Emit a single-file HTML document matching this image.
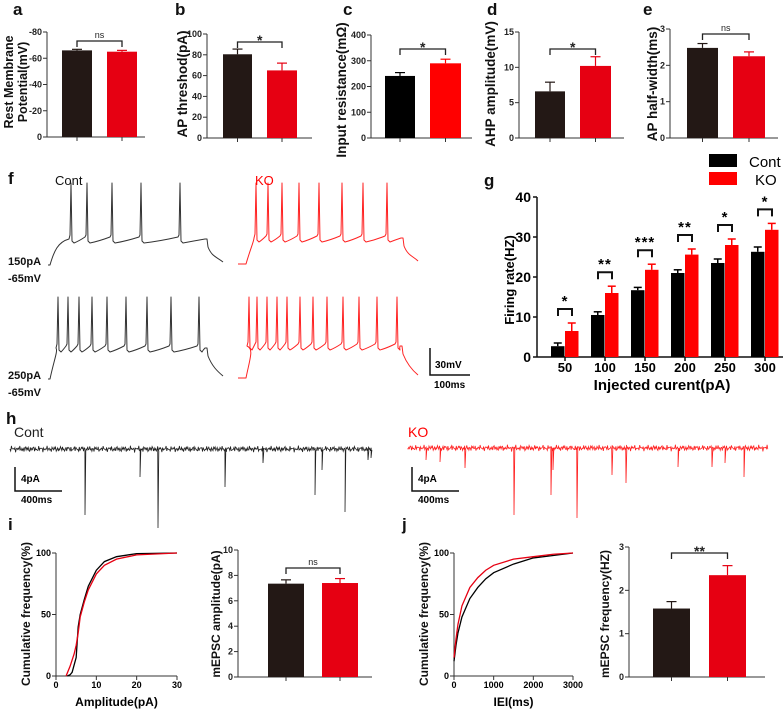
<!DOCTYPE html>
<html><head><meta charset="utf-8">
<style>
html,body{margin:0;padding:0;background:#fff;}
svg{display:block;font-family:"Liberation Sans",Arial,sans-serif;}
.tk{font-size:9px;fill:#222;font-weight:bold;}
.tt{font-size:13.5px;font-weight:bold;fill:#111;}
.tt2{font-size:12px;font-weight:bold;fill:#111;}
.tta{font-size:12.5px;font-weight:bold;fill:#111;}
.pl{font-size:17px;font-weight:bold;fill:#111;}
</style></head>
<body>
<svg id="fig" width="784" height="710" viewBox="0 0 784 710" xmlns="http://www.w3.org/2000/svg"></svg>
<script>
// ---- data: top row bar panels ----
const aVals=[66,65], aErr=[0.8,1.0];
const bVals=[80.5,65], bErr=[5,7];
const cVals=[241,290], cErr=[13,16];
const dVals=[6.6,10.2], dErr=[1.3,1.3];
const eVals=[2.48,2.25], eErr=[0.12,0.12];
const aTicks=["-80","-60","-40","-20","0"];
const bTicks=["100","80","60","40","20","0"];
const cTicks=["400","300","200","100","0"];
const dTicks=["15","10","5","0"];
const eTicks=["3","2","1","0"];
// ---- panel g ----
const gCats=["50","100","150","200","250","300"];
const gCont=[2.7,10.5,16.7,21,23.5,26.3];
const gContErr=[0.8,0.8,0.7,0.8,1.0,1.2];
const gKO=[6.5,16,21.8,25.6,28,31.8];
const gKOErr=[2,1.7,1.4,1.4,1.5,1.6];
const gStars=["*","**","***","**","*","*"];
const gTicks=[0,10,20,30,40];
// ---- panel i/j ----
const ampX=[2.8,3.5,4,5,5.5,6,7,8,10,12,15,20,30];
const ampCont=[0,1,3,15,40,50,62,73,86,93,97,99.5,100];
const ampKOX=[2.5,3.5,4.5,5,5.5,6,7,8,10,12,15,20,30];
const ampKO=[0,8,18,25,35,48,60,70,83,90,95,98.5,100];
const ieiX=[0,50,100,200,400,600,800,1000,1500,2000,2500,3000];
const ieiCont=[12,25,35,48,63,72,79,84,91,96,98,100];
const ieiKO=[15,30,42,57,72,80,86,90,95,97,99,100];
const iBar=[7.35,7.4], iBarErr=[0.3,0.35];
const jBar=[1.58,2.35], jBarErr=[0.16,0.22];
// ---- traces ----
const f1Cont=[71,87,112,141,180];
const f1KO=[256,268,282,299,319,342,363,387];
const f2Cont=[58,68,79,92,107,126,147,171,199];
const f2KO=[249,257,267,277,287,300,313,327,343,359,377,397];
const hContX=[85,140,158,225,263,315,322,345,368,371];
const hContD=[515,477,528,487,463,495,470,512,460,458];
const hKOX=[426,440,465,514,551,553,577,612,626,678,712,725,744];
const hKOD=[460,462,468,515,495,470,518,475,483,467,467,463,477];

const NS="http://www.w3.org/2000/svg";
const svg=document.getElementById('fig');
function mk(tag,attrs,parent,text){const e=document.createElementNS(NS,tag);for(const k in attrs)e.setAttribute(k,attrs[k]);if(text!==undefined)e.textContent=text;(parent||svg).appendChild(e);return e;}
function line(x1,y1,x2,y2,c,w,p){return mk('line',{x1,y1,x2,y2,stroke:c,'stroke-width':w||1},p);}

// panel letters
[['a',13,15],['b',175,15],['c',343,15],['d',487,15],['e',643,15],['f',8,184],['g',484,186],['h',6,424],['i',8,530],['j',402,530]].forEach(l=>{
 const t=mk('text',{x:l[1],y:l[2],class:'pl'},svg,l[0]);
 
 
});

function barPanel(cfg){
 const g=mk('g',{});
 
 
 const y=v=>cfg.y0-(v/cfg.max)*(cfg.y0-cfg.yTop);
 line(cfg.ax,cfg.yTop,cfg.ax,cfg.y0,'#333',1,g);
 line(cfg.ax,cfg.y0,cfg.axEnd,cfg.y0,'#333',1,g);
 cfg.ticks.forEach((lab,i)=>{const v=cfg.max*(1-i/(cfg.ticks.length-1));const yy=y(v);
  line(cfg.ax-4,yy,cfg.ax,yy,'#333',1,g);
  const t=mk('text',{x:cfg.ax-5,y:yy+3,'text-anchor':'end',class:'tk'},g,lab);
  });
 const cols=cfg.colors;
 cfg.vals.forEach((v,i)=>{const x0=cfg.bx[i][0],x1=cfg.bx[i][1],cx=(x0+x1)/2;
  const r=mk('rect',{x:x0,y:y(v),width:x1-x0,height:cfg.y0-y(v),fill:cols[i]},g);
  
  const ye=y(v+cfg.err[i]);
  line(cx,ye,cx,y(v),cols[i],1.2,g);line(cx-5,ye,cx+5,ye,cols[i],1.2,g);
  line(cx,cfg.y0,cx,cfg.y0+4,'#333',1,g);});
 const c0=(cfg.bx[0][0]+cfg.bx[0][1])/2,c1=(cfg.bx[1][0]+cfg.bx[1][1])/2;
 mk('path',{d:`M${c0},${cfg.brY+6}V${cfg.brY}H${c1}V${cfg.brY+6}`,fill:'none',stroke:'#222','stroke-width':1.3},g);
 const s=mk('text',{x:(c0+c1)/2,y:cfg.brY-(cfg.sig=='ns'?3:-3),'text-anchor':'middle','font-size':cfg.sig=='ns'?'9px':'14px','font-weight':cfg.sig=='ns'?'normal':'bold',fill:'#222'},g,cfg.sig);
 
 cfg.title.forEach((tl,k)=>{const tx=cfg.tx[k];
  const t=mk('text',{x:0,y:0,transform:`translate(${tx},${cfg.ty}) rotate(-90)`,'text-anchor':'middle',class:cfg.tcls||'tt'},g,tl);
  });
}
const DK=['#231815','#e60012'], BK=['#000','#ff0000'];
barPanel({name:'panel-a-rest-potential',ax:47,axEnd:145,yTop:32,y0:137,max:80,ticks:aTicks,vals:aVals,err:aErr,bx:[[62,92],[107,137]],colors:DK,brY:41,sig:'ns',title:['Rest Membrane','Potential(mV)'],tx:[13,27],ty:82,tcls:'tta'});
barPanel({name:'panel-b-ap-threshold',ax:207,axEnd:312,yTop:34,y0:138,max:100,ticks:bTicks,vals:bVals,err:bErr,bx:[[223,252],[267,297]],colors:DK,brY:42,sig:'*',title:['AP threshod(pA)'],tx:[187],ty:84});
barPanel({name:'panel-c-input-resistance',ax:371,axEnd:472,yTop:35,y0:138,max:400,ticks:cTicks,vals:cVals,err:cErr,bx:[[385,415],[430,461]],colors:BK,brY:49,sig:'*',title:['Input resistance(mΩ)'],tx:[346],ty:90});
barPanel({name:'panel-d-ahp-amplitude',ax:519,axEnd:624,yTop:32,y0:138,max:15,ticks:dTicks,vals:dVals,err:dErr,bx:[[535,565],[580,611]],colors:DK,brY:49,sig:'*',title:['AHP amplitude(mV)'],tx:[495],ty:84});
barPanel({name:'panel-e-ap-halfwidth',ax:670,axEnd:778,yTop:29,y0:138,max:3,ticks:eTicks,vals:eVals,err:eErr,bx:[[687,718],[733,765]],colors:DK,brY:34,sig:'ns',title:['AP half-width(ms)'],tx:[657],ty:84});

// ---- panel f traces ----
function apTrace(name,spikes,x0,xOn,xEnd,xTail,yBase,yPlat,yPeak,col){
 let d=`M${x0},${yBase}H${xOn}C${xOn+4},${yPlat+12} ${xOn+8},${yPlat+3} ${spikes[0]-2},${yPlat}`;
 spikes.forEach((s,i)=>{
  d+=`L${s-1},${yPlat-4}L${s},${yPeak}L${s+1},${yPlat+2}L${s+3},${yPlat+4}`;
  const nx=i<spikes.length-1?spikes[i+1]:xEnd;
  d+=`Q${(s+nx)/2},${yPlat+2} ${nx-2},${yPlat-(i<spikes.length-1?2:0)}`;
 });
 d+=`L${xEnd},${yPlat}L${xEnd+1},${yPlat+8}C${xEnd+5},${yPlat+18} ${xEnd+10},${yBase-8} ${xTail},${yBase-3}`;
 const p=mk('path',{d,fill:'none',stroke:col,'stroke-width':1,'stroke-linejoin':'round'});
 
}
apTrace('trace-cont-150pa',f1Cont,48,50,207,223,265,239,183,'#333');
apTrace('trace-ko-150pa',f1KO,238,246,403,418,264,238,183,'#f22');
apTrace('trace-cont-250pa',f2Cont,48,50,207,223,379,348,297,'#333');
apTrace('trace-ko-250pa',f2KO,238,246,402,418,378,346,297,'#f22');
[['Cont',55,185,'#111'],['KO',255,185,'#f00']].forEach(t=>{const e=mk('text',{x:t[1],y:t[2],'font-size':'13px',fill:t[3]},svg,t[0]);
 });
[['150pA',8,265],['-65mV',8,282],['250pA',8,379],['-65mV',8,396]].forEach(t=>{const e=mk('text',{x:t[1],y:t[2],'font-size':'11px','font-weight':'bold',fill:'#111'},svg,t[0]);
 });
mk('path',{d:'M430,348V375H470',fill:'none',stroke:'#111','stroke-width':1.5});
mk('text',{x:435,y:368,'font-size':'10px','font-weight':'bold'},svg,'30mV');
mk('text',{x:434,y:388,'font-size':'10px','font-weight':'bold'},svg,'100ms');

// ---- panel g ----
(function(){
 const g=mk('g',{});
 
 
 const ax=537,y0=357,yT=197,max=40,xs=i=>565+i*40;
 const y=v=>y0-v/max*(y0-yT);
 line(ax,yT,ax,y0,'#111',1.5,g);line(ax,y0,783,y0,'#111',1.5,g);
 gTicks.forEach(v=>{line(ax-4,y(v),ax,y(v),'#111',1.5,g);
  const t=mk('text',{x:ax-6,y:y(v)+5,'text-anchor':'end','font-size':'14px','font-weight':'bold'},g,String(v));
  });
 gCats.forEach((c,i)=>{const cx=xs(i);
  line(cx,y0,cx,y0+4,'#111',1.5,g);
  const t=mk('text',{x:cx,y:372,'text-anchor':'middle','font-size':'13px','font-weight':'bold'},g,c);
  
  [[gCont[i],gContErr[i],cx-14,'#000'],[gKO[i],gKOErr[i],cx,'#f00']].forEach((b,k)=>{
   const r=mk('rect',{x:b[2],y:y(b[0]),width:13.5,height:y0-y(b[0]),fill:b[3]},g);
   
   const bx=b[2]+6.75,ye=y(b[0]+b[1]);
   line(bx,ye,bx,y(b[0]),b[3],1.5,g);line(bx-4,ye,bx+4,ye,b[3],1.5,g);});
  const top=y(gKO[i]+gKOErr[i])-14;
  mk('path',{d:`M${cx-7},${top+7}V${top}H${cx+7}V${top+7}`,fill:'none',stroke:'#111','stroke-width':2},g);
  const s=mk('text',{x:cx,y:top-3,'text-anchor':'middle','font-size':'15px','font-weight':'bold','letter-spacing':'1px'},g,gStars[i]);
  
 });
 const yt=mk('text',{x:0,y:0,transform:'translate(514,280) rotate(-90)','text-anchor':'middle','font-size':'13px','font-weight':'bold'},g,'Firing rate(HZ)');
 
 const xt=mk('text',{x:662,y:390,'text-anchor':'middle','font-size':'15px','font-weight':'bold'},g,'Injected curent(pA)');
 
 const l1=mk('rect',{x:709,y:154,width:28,height:13,fill:'#000'},g);
 
 const l2=mk('rect',{x:709,y:172,width:28,height:13,fill:'#f00'},g);
 
 const t1=mk('text',{x:749,y:167,'font-size':'15px'},g,'Cont');
 
 const t2=mk('text',{x:755,y:185,'font-size':'15px'},g,'KO');
 
})();

// ---- panel h traces ----
function noiseTrace(name,x0,x1,yb,sx,sd,col){
 let d=`M${x0},${yb}`;
 for(let x=x0;x<=x1;x+=0.7){
  let yy=yb+1.6*Math.sin(x*3.7)+1.1*Math.sin(x*11.3+1)+0.8*Math.sin(x*0.9);
  d+=`L${x.toFixed(1)},${yy.toFixed(1)}`;
  sx.forEach((s,i)=>{if(Math.abs(x-s)<0.35){d+=`L${s},${sd[i]}L${s+0.8},${yb+2}`;}});
 }
 const p=mk('path',{d,fill:'none',stroke:col,'stroke-width':0.8});
 
}
noiseTrace('mepsc-trace-cont',10,372,449,hContX,hContD,'#222');
noiseTrace('mepsc-trace-ko',408,768,448,hKOX,hKOD,'#f22');
[['Cont',14,437,'#222'],['KO',408,437,'#f00']].forEach(t=>{const e=mk('text',{x:t[1],y:t[2],'font-size':'14px',fill:t[3]},svg,t[0]);
 });
[[15,62],[412,459]].forEach((s,k)=>{
 mk('path',{d:`M${s[0]},467V491H${s[1]}`,fill:'none',stroke:'#111','stroke-width':1.5});
 mk('text',{x:s[0]+6,y:482,'font-size':'10px','font-weight':'bold'},svg,'4pA');
 mk('text',{x:s[0]+6,y:503,'font-size':'10px','font-weight':'bold'},svg,'400ms');
});

// ---- cumulative plots ----
function cumPlot(name,ax,xEnd,xmax,ticks,xs1,ys1,xs2,ys2,xtitle,tx){
 const g=mk('g',{});
 
 
 const y0=676,yT=553;
 const X=v=>ax+v/xmax*(xEnd-ax), Y=v=>y0-v/100*(y0-yT);
 line(ax,yT,ax,y0,'#333',1,g);line(ax,y0,xEnd,y0,'#333',1,g);
 [0,50,100].forEach(v=>{line(ax-4,Y(v),ax,Y(v),'#333',1,g);
  mk('text',{x:ax-5,y:Y(v)+3,'text-anchor':'end','font-size':'9px','font-weight':'bold'},g,String(v));});
 ticks.forEach(v=>{line(X(v),y0,X(v),y0+4,'#333',1,g);
  mk('text',{x:X(v),y:688,'text-anchor':'middle','font-size':'9px','font-weight':'bold'},g,String(v));});
 const p1=mk('polyline',{points:xs1.map((x,i)=>X(x)+','+Y(ys1[i])).join(' '),fill:'none',stroke:'#000','stroke-width':1.3},g);
 
 const p2=mk('polyline',{points:xs2.map((x,i)=>X(x)+','+Y(ys2[i])).join(' '),fill:'none',stroke:'#e60012','stroke-width':1.3},g);
 
 const xt=mk('text',{x:(ax+xEnd)/2,y:706,'text-anchor':'middle','font-size':'12px','font-weight':'bold'},g,xtitle);
 
 const yt=mk('text',{x:0,y:0,transform:`translate(${tx},614) rotate(-90)`,'text-anchor':'middle',class:'tt2'},g,'Cumulative frequency(%)');
 
}
cumPlot('panel-i-amplitude-cdf',56,177,30,[0,10,20,30],ampX,ampCont,ampKOX,ampKO,'Amplitude(pA)',30);
cumPlot('panel-j-iei-cdf',454,573,3000,[0,1000,2000,3000],ieiX,ieiCont,ieiX,ieiKO,'IEI(ms)',428);
barPanel({name:'panel-i-mepsc-amplitude',ax:238,axEnd:372,yTop:550,y0:677,max:10,ticks:["10","8","6","4","2","0"],vals:iBar,err:iBarErr,bx:[[268,304],[322,358]],colors:DK,brY:568,sig:'ns',title:['mEPSC amplitude(pA)'],tx:[220],ty:614,tcls:'tt2'});
barPanel({name:'panel-j-mepsc-frequency',ax:629,axEnd:765,yTop:547,y0:677,max:3,ticks:["3","2","1","0"],vals:jBar,err:jBarErr,bx:[[653,690],[709,746]],colors:DK,brY:553,sig:'**',title:['mEPSC frequency(HZ)'],tx:[609],ty:614,tcls:'tt2'});
</script>
</body></html>
